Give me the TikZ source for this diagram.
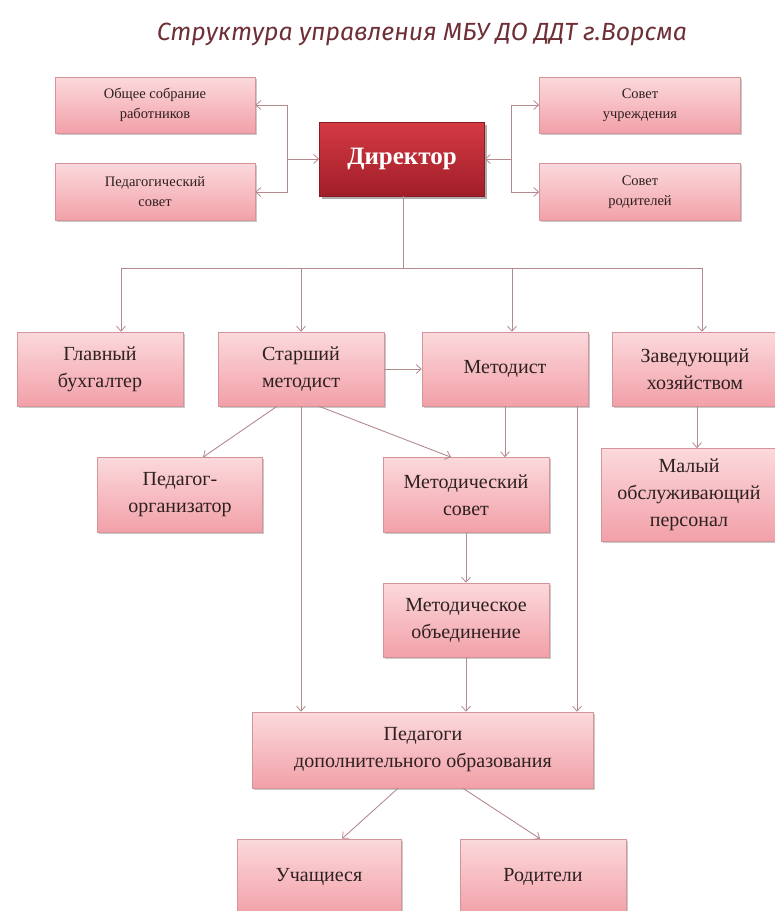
\documentclass[tikz,border=0pt]{standalone}
\usepackage{fontspec}
\setmainfont{Liberation Serif}
\newfontfamily\titlefont{Fira Sans}
\usetikzlibrary{arrows.meta,shadows,calc}
\definecolor{boxtop}{HTML}{FBD9DC}
\definecolor{boxbot}{HTML}{F2A0A8}
\definecolor{boxline}{HTML}{D3949A}
\definecolor{txt}{HTML}{2E2020}
\definecolor{linec}{HTML}{B48A8E}
\definecolor{dirtop}{HTML}{D43A44}
\definecolor{dirbot}{HTML}{A01E28}
\definecolor{dirline}{HTML}{8A1A22}
\definecolor{titlec}{HTML}{6E2F36}
\tikzset{
  pbox/.style={draw=boxline, line width=0.6pt, top color=boxtop, bottom color=boxbot,
    text=txt, align=center, inner sep=2pt, font=\fontsize{20}{27}\selectfont,
    drop shadow={opacity=0.35, shadow xshift=1.5pt, shadow yshift=-1.8pt, fill=black!60}},
  sbox/.style={pbox, font=\fontsize{14.5}{20}\selectfont},
  dirbox/.style={draw=dirline, line width=0.6pt, top color=dirtop, bottom color=dirbot,
    text=white, align=center, font=\fontsize{25}{30}\selectfont\bfseries,
    minimum width=165pt, minimum height=74pt,
    drop shadow={opacity=0.45, shadow xshift=2pt, shadow yshift=-2.5pt, fill=black!70}},
  conn/.style={draw=linec, line width=0.9pt},
  arr/.style={conn, -{Straight Barb[length=5pt,width=9pt,line width=0.8pt]}}
}
\begin{document}
\begin{tikzpicture}[x=1pt,y=-1pt]
\useasboundingbox (0,0) rectangle (775,911);
% title
\node (title) at (422,34) {\resizebox{530pt}{!}{\titlefont\itshape\color{titlec}Структура управления МБУ ДО ДДТ г.Ворсма}};
% top row
\node[sbox, minimum width=200pt, minimum height=56pt] (A) at (155,105) {Общее собрание\\работников};
\node[sbox, minimum width=200pt, minimum height=57pt] (B) at (155,192) {Педагогический\\совет};
\node[sbox, minimum width=201pt, minimum height=56pt] (C) at (640,105) {Совет\\учреждения};
\node[sbox, minimum width=201pt, minimum height=57pt] (D) at (640,192) {Совет\\родителей};
\node[dirbox] (Dir) at (402,159) {Директор};
% second row
\node[pbox, minimum width=166pt, minimum height=74pt] (Glav) at (100,369) {Главный\\бухгалтер};
\node[pbox, minimum width=166pt, minimum height=74pt] (Star) at (301,369) {Старший\\методист};
\node[pbox, minimum width=166pt, minimum height=74pt] (Met) at (505,369) {Методист};
\node[pbox, minimum width=166pt, minimum height=74pt] (Zav) at (695,369) {Заведующий\\хозяйством};
% third row
\node[pbox, minimum width=165pt, minimum height=75pt] (PedOrg) at (180,495) {Педагог-\\организатор};
\node[pbox, minimum width=166pt, minimum height=75pt] (MetSov) at (466,495) {Методический\\совет};
\node[pbox, minimum width=175pt, minimum height=93pt] (Mal) at (689,495) {Малый\\обслуживающий\\персонал};
\node[pbox, minimum width=166pt, minimum height=74pt] (MetOb) at (466,620) {Методическое\\объединение};
\node[pbox, minimum width=341pt, minimum height=76pt] (Ped) at (423,750) {Педагоги\\дополнительного образования};
\node[pbox, minimum width=164pt, minimum height=76pt] (Uch) at (319,877) {Учащиеся};
\node[pbox, minimum width=166pt, minimum height=76pt] (Rod) at (543,877) {Родители};
% connectors around director
\coordinate (lb) at (287,159);
\coordinate (rb) at (511,159);
\draw[arr] (lb) -- (Dir.west);
\draw[arr] (lb) |- (A.east);
\draw[arr] (lb) |- (B.east);
\draw[arr] (rb) -- (Dir.east);
\draw[arr] (rb) |- (C.west);
\draw[arr] (rb) |- (D.west);
% bus
\coordinate (bus) at (403,268);
\coordinate (b1) at (121,268);
\coordinate (b2) at (301,268);
\coordinate (b3) at (512,268);
\coordinate (b4) at (702,268);
\draw[conn] (Dir.south -| bus) -- (bus);
\draw[conn] (b1) -- (b4);
\draw[arr] (b1) -- (b1 |- Glav.north);
\draw[arr] (b2) -- (b2 |- Star.north);
\draw[arr] (b3) -- (b3 |- Met.north);
\draw[arr] (b4) -- (b4 |- Zav.north);
% below
\draw[arr] (Star.east) -- (Met.west);
\draw[arr] ($(Star.south)+(-24,0)$) -- ($(PedOrg.north)+(23,0)$);
\draw[arr] ($(Star.south)+(18,0)$) -- ($(MetSov.north)+(-15,0)$);
\draw[arr] (Star.south) -- (Star.south |- Ped.north);
\draw[arr] (Met.south) -- (Met.south |- MetSov.north);
\coordinate (m2) at ($(Met.south)+(72,0)$);
\draw[arr] (m2) -- (m2 |- Ped.north);
\draw[arr] (MetSov.south) -- (MetOb.north);
\draw[arr] (MetOb.south) -- (MetOb.south |- Ped.north);
\coordinate (z1) at ($(Zav.south)+(2,0)$);
\draw[arr] (z1) -- (z1 |- Mal.north);
\draw[arr] ($(Ped.south)+(-25,0)$) -- ($(Uch.north)+(23,0)$);
\draw[arr] ($(Ped.south)+(40,0)$) -- ($(Rod.north)+(-3,0)$);
\end{tikzpicture}
\end{document}
